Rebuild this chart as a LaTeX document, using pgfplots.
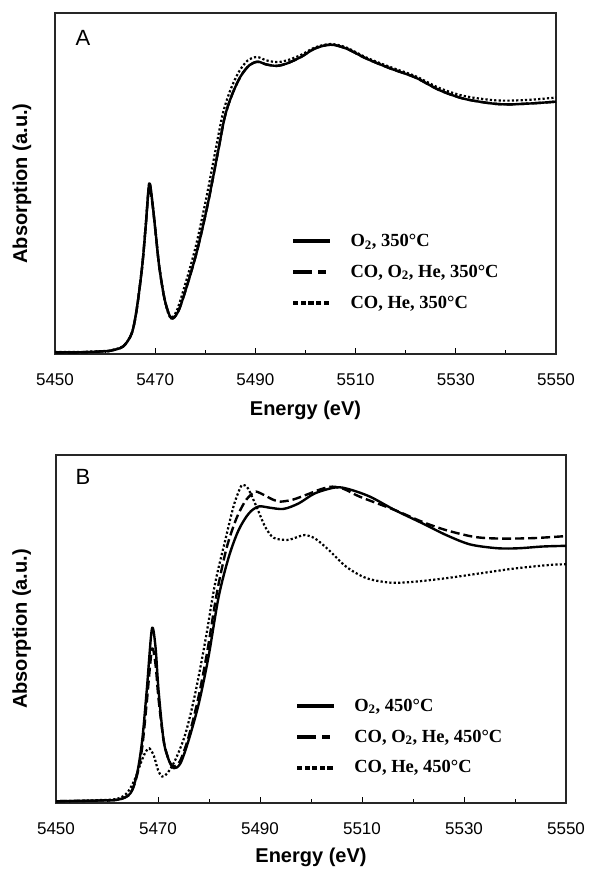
\documentclass[border=0pt]{standalone}
\usepackage{pgfplots}
\pgfplotsset{compat=1.18}
\usepackage{fontspec}
\setmainfont{Liberation Sans}
\newfontfamily\timesfont{Liberation Serif}
\pgfplotsset{myax/.style={
  scale only axis, xmin=5450, xmax=5550, ymin=0, ymax=1,
  xtick={5450,5470,...,5550}, minor x tick num=1, ytick=\empty,
  xtick pos=left, tick align=inside,
  major tick length=6pt, minor tick length=4pt,
  axis line style={line width=1.4pt, black!85},
  every tick/.style={black, line width=1pt},
  tick label style={font=\fontsize{17}{20}\selectfont},
  /pgf/number format/assume math mode=true,
  /pgf/number format/set thousands separator={},
  xticklabel style={anchor=center, yshift=-26pt},
  xlabel={Energy (eV)}, ylabel={Absorption (a.u.)},
  label style={font=\bfseries\fontsize{20}{24}\selectfont},
  legend style={draw=none, fill=none, font=\timesfont\bfseries\fontsize{18.5}{21}\selectfont,
     row sep=13pt, column sep=19pt, inner sep=0pt},
  legend cell align=left,
  solidc/.style={black, line width=2.4pt, line join=round, smooth, tension=0.5},
  dashc/.style={black, line width=2.4pt, dash pattern=on 9pt off 4pt, smooth, tension=0.5},
  dotc/.style={black, line width=2.2pt, dash pattern=on 2.2pt off 2.2pt, smooth, tension=0.5},
  legsolid/.style={legend image code/.code={\fill[black] (0pt,-1.5pt) rectangle (36pt,1.5pt);}},
  legdash/.style={legend image code/.code={\fill[black] (0pt,-1.5pt) rectangle (18pt,1.5pt);
                                          \fill[black] (25pt,-1.5pt) rectangle (32pt,1.5pt);}},
  legdot/.style={legend image code/.code={%
     \fill[black] (0pt,-1.5pt) rectangle (4.2pt,1.5pt);
     \fill[black] (7.6pt,-1.5pt) rectangle (11.8pt,1.5pt);
     \fill[black] (15.2pt,-1.5pt) rectangle (19.4pt,1.5pt);
     \fill[black] (22.8pt,-1.5pt) rectangle (27pt,1.5pt);
     \fill[black] (30.4pt,-1.5pt) rectangle (34.6pt,1.5pt);}},
}}
\begin{document}
\begin{tikzpicture}
% ---------------- Panel A ----------------
\begin{axis}[myax, at={(55pt,518pt)}, anchor=south west, width=501pt, height=341pt,
  xlabel style={at={(axis description cs:0.5,-0.164)}, anchor=center},
  ylabel style={at={(axis description cs:-0.066,0.5)}, anchor=center},
  legend style={at={(0.475,0.358)}, anchor=north west}]
\addplot[dotc, forget plot] table {
5450 0.006
5455 0.006
5460 0.009
5461.2 0.011
5463.6 0.023
5465.3 0.06
5466.3 0.13
5467.4 0.257
5468.1 0.374
5468.8 0.50
5469.4 0.45
5470.1 0.354
5470.8 0.257
5471.9 0.159
5473.0 0.107
5474.3 0.127
5475.9 0.20
5478.0 0.31
5480.1 0.45
5482.2 0.61
5483.5 0.705
5484.9 0.77
5486.6 0.825
5488.4 0.86
5490.3 0.871
5492.2 0.861
5494.3 0.856
5496.3 0.861
5499.1 0.877
5501.9 0.899
5505.0 0.909
5508.1 0.899
5512.2 0.869
5517.0 0.841
5521.9 0.815
5526.7 0.780
5531.5 0.757
5537.0 0.745
5540.5 0.743
5545.3 0.746
5550 0.752
};
\addplot[dashc, forget plot] table {
5450 0.005
5455 0.005
5460 0.008
5461.2 0.01
5463.6 0.022
5465.3 0.06
5466.3 0.13
5467.4 0.257
5468.1 0.374
5468.8 0.49
5469.4 0.445
5470.1 0.354
5470.8 0.257
5471.9 0.159
5473.2 0.105
5474.6 0.125
5476.3 0.198
5478.4 0.305
5480.5 0.44
5482.6 0.598
5483.9 0.696
5485.3 0.759
5487.0 0.813
5488.8 0.847
5490.5 0.857
5492.2 0.849
5494.3 0.845
5496.3 0.852
5499.1 0.871
5501.9 0.896
5505.0 0.907
5508.1 0.896
5512.2 0.866
5517.0 0.837
5521.9 0.811
5526.7 0.774
5531.5 0.749
5537.0 0.735
5540.5 0.732
5545.3 0.735
5550 0.74
};
\addplot[solidc, forget plot] table {
5450 0.005
5455 0.005
5460 0.008
5461.2 0.01
5463.6 0.022
5465.3 0.06
5466.3 0.13
5467.4 0.257
5468.1 0.374
5468.8 0.50
5469.4 0.45
5470.1 0.354
5470.8 0.257
5471.9 0.159
5473.2 0.105
5474.6 0.125
5476.3 0.198
5478.4 0.305
5480.5 0.44
5482.6 0.598
5483.9 0.696
5485.3 0.759
5487.0 0.813
5488.8 0.847
5490.5 0.857
5492.2 0.849
5494.3 0.845
5496.3 0.852
5499.1 0.871
5501.9 0.896
5505.0 0.907
5508.1 0.896
5512.2 0.866
5517.0 0.837
5521.9 0.811
5526.7 0.774
5531.5 0.749
5537.0 0.735
5540.5 0.732
5545.3 0.735
5550 0.74
};
\addlegendimage{legsolid}
\addlegendentry{O\textsubscript{2}, 350\textdegree C}
\addlegendimage{legdash}
\addlegendentry{CO, O\textsubscript{2}, He, 350\textdegree C}
\addlegendimage{legdot}
\addlegendentry{CO, He, 350\textdegree C}
\node[font=\fontsize{22}{24}\selectfont] at (rel axis cs:0.056,0.927) {A};
\end{axis}
% ---------------- Panel B ----------------
\begin{axis}[myax, at={(56pt,69pt)}, anchor=south west, width=510pt, height=348pt,
  xlabel style={at={(axis description cs:0.5,-0.155)}, anchor=center},
  ylabel style={at={(axis description cs:-0.067,0.5)}, anchor=center},
  legend style={at={(0.472,0.305)}, anchor=north west}]
\addplot[dotc, forget plot] table {
5450 0.005
5458 0.008
5462 0.012
5464.0 0.03
5465.5 0.07
5466.5 0.11
5467.5 0.145
5468.3 0.157
5469.2 0.135
5470.0 0.095
5470.8 0.076
5471.8 0.085
5473.4 0.124
5475.4 0.20
5477.3 0.315
5479.3 0.468
5481.2 0.631
5483.2 0.756
5484.8 0.852
5486.1 0.905
5486.6 0.914
5487.6 0.905
5489.3 0.852
5491.0 0.794
5492.7 0.762
5495.4 0.756
5497.5 0.765
5498.8 0.77
5500.8 0.76
5503.5 0.727
5506.9 0.679
5510.9 0.646
5515.7 0.633
5520.4 0.636
5526.5 0.646
5533.2 0.66
5540.0 0.674
5546.8 0.684
5550 0.686
};
\addplot[dashc, forget plot] table {
5450 0.005
5458 0.007
5462.3 0.01
5464.6 0.028
5465.9 0.08
5466.9 0.16
5467.8 0.29
5468.8 0.44
5469.5 0.40
5470.1 0.30
5471.1 0.18
5472.1 0.125
5473.0 0.105
5474.3 0.12
5475.9 0.185
5477.8 0.295
5479.6 0.43
5481.5 0.60
5483.4 0.73
5485.3 0.815
5487.0 0.865
5488.3 0.887
5489.2 0.895
5490.8 0.885
5492.5 0.872
5494.0 0.866
5496.5 0.872
5499.5 0.888
5502.0 0.902
5504.2 0.909
5506.5 0.902
5509.6 0.88
5516.4 0.842
5521.8 0.808
5526.5 0.784
5531.9 0.765
5536.6 0.76
5543.4 0.761
5550 0.767
};
\addplot[solidc, forget plot] table {
5450 0.005
5458 0.007
5462.3 0.01
5464.6 0.028
5465.9 0.085
5466.9 0.18
5467.8 0.325
5468.8 0.50
5469.5 0.45
5470.1 0.325
5471.1 0.18
5472.1 0.124
5473.1 0.10
5474.4 0.114
5476.0 0.18
5478.0 0.286
5479.9 0.42
5481.9 0.593
5483.9 0.708
5485.8 0.784
5487.8 0.832
5489.7 0.852
5491.7 0.849
5494.6 0.845
5497.6 0.861
5500.8 0.89
5504.9 0.907
5507.6 0.901
5511.6 0.88
5516.4 0.842
5521.8 0.804
5526.5 0.77
5531.2 0.743
5536.6 0.732
5540.7 0.732
5545.4 0.737
5550 0.739
};
\addlegendimage{legsolid}
\addlegendentry{O\textsubscript{2}, 450\textdegree C}
\addlegendimage{legdash}
\addlegendentry{CO, O\textsubscript{2}, He, 450\textdegree C}
\addlegendimage{legdot}
\addlegendentry{CO, He, 450\textdegree C}
\node[font=\fontsize{22}{24}\selectfont] at (rel axis cs:0.053,0.937) {B};
\end{axis}
\pgfresetboundingbox
\path[use as bounding box] (0,0) rectangle (590pt,872pt);
\end{tikzpicture}
\end{document}
